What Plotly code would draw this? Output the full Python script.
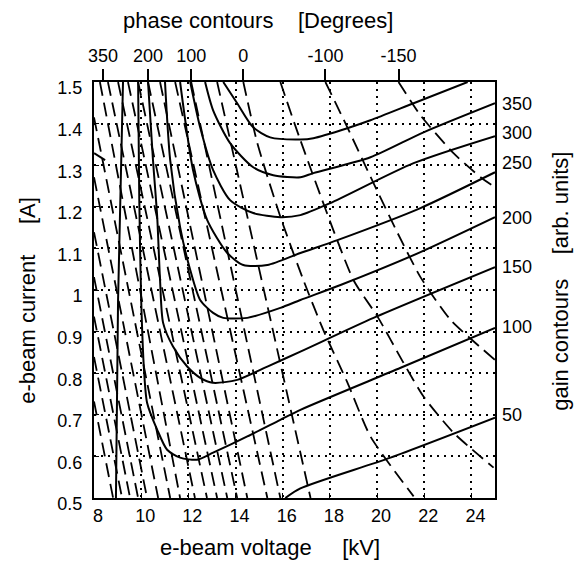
import plotly.graph_objects as go

# ---------------- gain contours (solid) ----------------
gain_400_x = [13.48, 14.07, 14.75, 15.47, 16.75, 17.30, 18.74, 19.72, 21.55, 23.84]
gain_400_y = [1.50, 1.449, 1.391, 1.367, 1.362, 1.365, 1.389, 1.408, 1.449, 1.50]
gain_350_x = [12.71, 13.05, 13.77, 14.75, 15.60, 16.75, 17.30, 19.72, 21.97, 25.0]
gain_350_y = [1.50, 1.432, 1.353, 1.295, 1.276, 1.271, 1.281, 1.319, 1.379, 1.449]
gain_300_x = [12.08, 12.50, 13.05, 13.77, 14.75, 15.90, 16.75, 18.02, 21.55, 25.0]
gain_300_y = [1.50, 1.391, 1.288, 1.216, 1.185, 1.175, 1.180, 1.209, 1.305, 1.370]
gain_250_x = [11.65, 12.20, 12.80, 13.65, 14.33, 15.35, 16.75, 18.32, 21.84, 25.0]
gain_250_y = [1.50, 1.288, 1.168, 1.089, 1.060, 1.060, 1.089, 1.120, 1.197, 1.283]
gain_200_x = [11.01, 11.23, 11.65, 12.08, 12.50, 13.05, 13.48, 14.50, 15.90, 16.75, 18.45, 21.84, 25.0]
gain_200_y = [1.50, 1.312, 1.151, 1.048, 0.976, 0.945, 0.933, 0.933, 0.957, 0.976, 1.012, 1.091, 1.175]
gain_150_x = [10.29, 10.50, 10.68, 10.80, 10.93, 11.35, 11.95, 12.50, 13.05, 14.07, 15.35, 16.75, 19.85, 25.0]
gain_150_y = [1.50, 1.313, 1.175, 1.024, 0.921, 0.864, 0.816, 0.789, 0.777, 0.784, 0.816, 0.852, 0.933, 1.055]
gain_100_x = [9.87, 9.92, 10.0, 10.12, 10.25, 10.68, 11.10, 11.65, 12.37, 13.05, 14.50, 15.90, 16.75, 21.0, 25.0]
gain_100_y = [1.50, 1.216, 0.976, 0.808, 0.729, 0.664, 0.616, 0.597, 0.592, 0.609, 0.648, 0.688, 0.712, 0.813, 0.909]
gain_50_x = [16.11, 16.75, 20.57, 25.0]
gain_50_y = [0.50, 0.523, 0.597, 0.693]
gain_50_left_x = [9.23, 9.02, 8.93]
gain_50_left_y = [1.50, 0.976, 0.50]
gain_corner_x = [8.0, 8.47]
gain_corner_y = [1.329, 1.312]

# ---------------- phase contours (dashed) ----------------
phase_01_x = [8.0, 8.81];   phase_01_y = [0.732, 0.5]
phase_02_x = [8.0, 9.19];   phase_02_y = [0.839, 0.5]
phase_03_x = [8.0, 9.53];   phase_03_y = [0.936, 0.5]
phase_04_x = [8.0, 9.87];   phase_04_y = [1.031, 0.5]
phase_05_x = [8.0, 10.25];  phase_05_y = [1.139, 0.5]
phase_06_x = [8.0, 10.72];  phase_06_y = [1.271, 0.5]
phase_07_x = [8.0, 11.23];  phase_07_y = [1.415, 0.5]
phase_08_x = [8.25, 11.65]; phase_08_y = [1.5, 0.5]
phase_09_x = [8.59, 12.28]; phase_09_y = [1.5, 0.5]
phase_10_x = [9.02, 12.79]; phase_10_y = [1.5, 0.5]
phase_11_x = [9.44, 13.22]; phase_11_y = [1.5, 0.5]
phase_12_x = [9.87, 13.65]; phase_12_y = [1.5, 0.5]
phase_13_x = [10.29, 14.07]; phase_13_y = [1.5, 0.5]
phase_14_x = [10.80, 14.50]; phase_14_y = [1.5, 0.5]
phase_15_x = [11.44, 15.35]; phase_15_y = [1.5, 0.5]
phase_16_x = [12.12, 15.90]; phase_16_y = [1.5, 0.5]
phase_17_x = [13.22, 17.18]; phase_17_y = [1.5, 0.5]
phase_18_x = [14.33, 14.92, 15.90, 16.87, 17.72, 18.74, 19.72, 21.55]
phase_18_y = [1.5, 1.354, 1.176, 1.025, 0.904, 0.778, 0.648, 0.504]
phase_19_x = [15.90, 16.75, 19.0, 20.02, 21.12, 21.97, 23.24, 24.94]
phase_19_y = [1.5, 1.36, 1.024, 0.936, 0.825, 0.744, 0.657, 0.573]
phase_20_x = [17.81, 18.74, 19.85, 20.87, 21.84, 23.12, 25.0]
phase_20_y = [1.5, 1.391, 1.257, 1.137, 1.031, 0.928, 0.832]
phase_21_x = [20.91, 21.84, 23.24, 24.39, 25.0]
phase_21_y = [1.5, 1.420, 1.329, 1.271, 1.247]

# ---------------- axis labels ----------------
x_ticks = [8, 10, 12, 14, 16, 18, 20, 22, 24]
y_ticks = [0.5, 0.6, 0.7, 0.8, 0.9, 1.0, 1.1, 1.2, 1.3, 1.4, 1.5]
y_ticktext = ["0.5", "0.6", "0.7", "0.8", "0.9", "1", "1.1", "1.2", "1.3", "1.4", "1.5"]
phase_label_pos = [8.38, 10.29, 12.12, 14.33, 17.81, 20.91]
phase_label_text = ["350", "200", "100", "0", "-100", "-150"]
gain_label_pos = [1.449, 1.377, 1.305, 1.175, 1.055, 0.912, 0.700]
gain_label_text = ["350", "300", "250", "200", "150", "100", "50"]

gain_curves = [
    (gain_400_x, gain_400_y), (gain_350_x, gain_350_y), (gain_300_x, gain_300_y),
    (gain_250_x, gain_250_y), (gain_200_x, gain_200_y), (gain_150_x, gain_150_y),
    (gain_100_x, gain_100_y), (gain_50_x, gain_50_y), (gain_50_left_x, gain_50_left_y),
    (gain_corner_x, gain_corner_y),
]
phase_curves = [
    (phase_01_x, phase_01_y), (phase_02_x, phase_02_y), (phase_03_x, phase_03_y),
    (phase_04_x, phase_04_y), (phase_05_x, phase_05_y), (phase_06_x, phase_06_y),
    (phase_07_x, phase_07_y), (phase_08_x, phase_08_y), (phase_09_x, phase_09_y),
    (phase_10_x, phase_10_y), (phase_11_x, phase_11_y), (phase_12_x, phase_12_y),
    (phase_13_x, phase_13_y), (phase_14_x, phase_14_y), (phase_15_x, phase_15_y),
    (phase_16_x, phase_16_y), (phase_17_x, phase_17_y), (phase_18_x, phase_18_y),
    (phase_19_x, phase_19_y), (phase_20_x, phase_20_y), (phase_21_x, phase_21_y),
]

FONT = "Liberation Sans, Arial, sans-serif"
fig = go.Figure()

for xs, ys in phase_curves:
    fig.add_trace(go.Scatter(x=xs, y=ys, mode="lines", showlegend=False, hoverinfo="skip",
                             line=dict(color="black", width=1.8, dash="14px,7px", shape="spline", smoothing=0.6)))
for xs, ys in gain_curves:
    fig.add_trace(go.Scatter(x=xs, y=ys, mode="lines", showlegend=False, hoverinfo="skip",
                             line=dict(color="black", width=2, shape="spline", smoothing=0.7)))

# invisible trace to activate secondary axes
fig.add_trace(go.Scatter(x=[8, 25], y=[0.5, 1.5], xaxis="x2", yaxis="y2", mode="markers",
                         marker=dict(opacity=0), showlegend=False, hoverinfo="skip"))

fig.update_layout(
    width=576, height=567,
    margin=dict(l=94, r=81, t=82, b=69),
    paper_bgcolor="white", plot_bgcolor="white",
    font=dict(family=FONT, color="black", size=18),
    xaxis=dict(range=[8, 25], tickvals=x_ticks, showgrid=True, gridcolor="black",
               griddash="2px,5px", gridwidth=1.5, showline=True, linecolor="black",
               linewidth=2, mirror=True, ticks="inside", ticklen=5, tickcolor="black",
               zeroline=False, tickfont=dict(size=18), ticklabelshift=4),
    yaxis=dict(range=[0.5, 1.5], tickvals=y_ticks, ticktext=y_ticktext, showgrid=True,
               gridcolor="black", griddash="2px,5px", gridwidth=1.5, showline=True,
               linecolor="black", linewidth=2, mirror=True, ticks="inside", ticklen=5,
               tickcolor="black", zeroline=False, tickfont=dict(size=18),
               ticklabelshift=6, ticklabelstandoff=6),
    xaxis2=dict(overlaying="x", side="top", range=[8, 25], tickvals=phase_label_pos,
                ticktext=phase_label_text, ticks="outside", ticklen=12, tickwidth=2,
                tickcolor="black", showgrid=False, showline=False, zeroline=False,
                tickfont=dict(size=18)),
    yaxis2=dict(overlaying="y", side="right", range=[0.5, 1.5], tickvals=gain_label_pos,
                ticktext=gain_label_text, ticks="", showgrid=False, showline=False,
                zeroline=False, tickfont=dict(size=18), ticklabelstandoff=6),
    annotations=[
        dict(text="phase contours\u00a0\u00a0\u00a0\u00a0[Degrees]", xref="paper", yref="paper",
             x=0.409, y=1.149, showarrow=False, font=dict(size=22), xanchor="center", yanchor="middle"),
        dict(text="e-beam voltage\u00a0\u00a0\u00a0\u00a0\u00a0[kV]", xref="paper", yref="paper",
             x=0.439, y=-0.120, showarrow=False, font=dict(size=22), xanchor="center", yanchor="middle"),
        dict(text="e-beam current\u00a0\u00a0\u00a0\u00a0\u00a0[A]", xref="paper", yref="paper",
             x=-0.165, y=0.476, showarrow=False, font=dict(size=22), textangle=-90,
             xanchor="center", yanchor="middle"),
        dict(text="gain contours\u00a0\u00a0\u00a0\u00a0[arb. units]", xref="paper", yref="paper",
             x=1.165, y=0.52, showarrow=False, font=dict(size=22), textangle=-90,
             xanchor="center", yanchor="middle"),
    ],
)

fig.write_html("out.html", config={"displayModeBar": False},
               post_script="document.body.style.margin='0';document.body.style.padding='0';")
